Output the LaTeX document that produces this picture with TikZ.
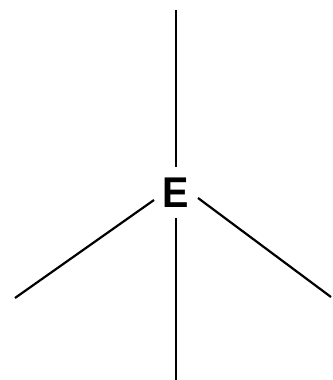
\documentclass[tikz,border=0pt]{standalone}
\usepackage{fontspec}
\setmainfont{Liberation Sans}
\begin{document}
\begin{tikzpicture}[x=1pt,y=-1pt,
  ln/.style={line width=2.2pt,line cap=butt},
  lbl/.style={inner sep=0pt,xscale=0.92,font=\fontsize{43}{43}\selectfont}]
\useasboundingbox (0,0) rectangle (332,380);
\node[lbl] (E) at (176,192.5) {\textbf{E}};
\coordinate (t1) at (176,10);
\coordinate (t2) at (176,167);
\coordinate (b1) at (176,218);
\coordinate (b2) at (176,380);
\coordinate (l1) at (154,200);
\coordinate (l2) at (15,298);
\coordinate (r1) at (198,198);
\coordinate (r2) at (331,297);
\draw[ln] (t1) -- (t2);
\draw[ln] (b1) -- (b2);
\draw[ln] (l1) -- (l2);
\draw[ln] (r1) -- (r2);
\end{tikzpicture}
\end{document}
